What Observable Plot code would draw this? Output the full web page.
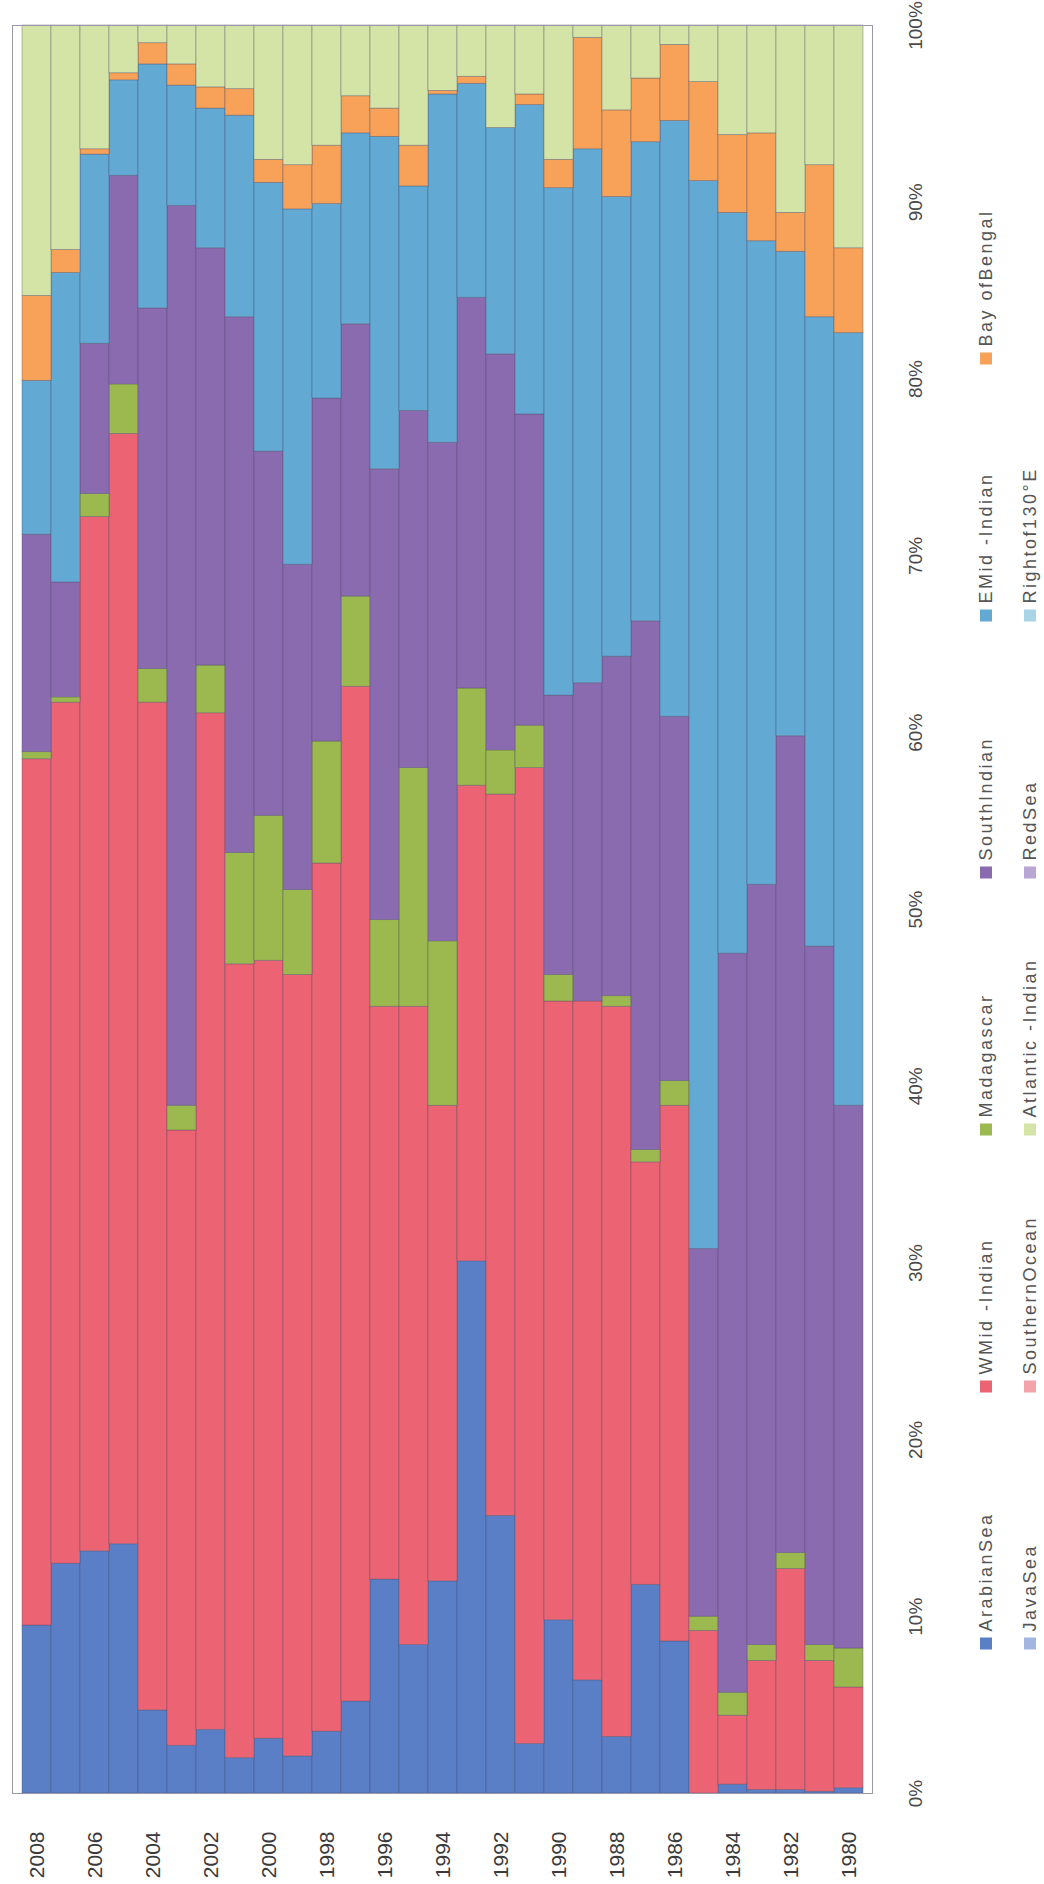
<!DOCTYPE html>
<html>
<head>
<meta charset="utf-8">
<script src="https://cdn.jsdelivr.net/npm/d3@7"></script>
<script src="https://cdn.jsdelivr.net/npm/@observablehq/plot@0.6"></script>
<style>
  html, body { margin: 0; padding: 0; background: #fff; }
  #chart { position: relative; width: 1044px; height: 1884px; overflow: hidden; }
  #legend {
    position: absolute; left: 0; top: 0;
    transform-origin: 0 0;
    transform: translate(979px, 1649.5px) rotate(-90deg);
    display: grid;
    grid-template-columns: repeat(6, 257px);
    grid-auto-rows: 44px;
    align-items: start;
    font-family: "Liberation Sans", Arial, sans-serif;
    font-size: 18px;
    letter-spacing: 2.5px;
    color: #555;
  }
  #legend .item { display: flex; align-items: center; height: 14px; white-space: nowrap; }
  #legend .sw { width: 12px; height: 12px; margin-right: 6px; flex: none; }
</style>
</head>
<body>
<div id="chart"></div>
<script>
// Years, one bar each, in the order they are drawn (left to right)
const years = [2008, 2007, 2006, 2005, 2004, 2003, 2002, 2001, 2000, 1999,
               1998, 1997, 1996, 1995, 1994, 1993, 1992, 1991, 1990, 1989,
               1988, 1987, 1986, 1985, 1984, 1983, 1982, 1981, 1980];
const labeledYears = [2008, 2006, 2004, 2002, 2000, 1998, 1996, 1994, 1992, 1990, 1988, 1986, 1984, 1982, 1980];
const percentTicks = [0, 0.1, 0.2, 0.3, 0.4, 0.5, 0.6, 0.7, 0.8, 0.9, 1];

// Share of each region per year (percent)
const arabianSea     = [9.5, 13.0, 13.7, 14.1, 4.7, 2.7, 3.6, 2.0, 3.1, 2.1, 3.5, 5.2, 12.1, 8.4, 12.0, 30.1, 15.7, 2.8, 9.8, 6.4, 3.2, 11.8, 8.6, 0, 0.5, 0.2, 0.2, 0.1, 0.3];
const wMidIndian     = [49.0, 48.7, 58.5, 62.8, 57.0, 34.8, 57.5, 44.9, 44.0, 44.2, 49.1, 57.4, 32.4, 36.1, 26.9, 26.9, 40.8, 55.2, 35.0, 38.4, 41.3, 23.9, 30.3, 9.2, 3.9, 7.3, 12.5, 7.4, 5.7];
const madagascar     = [0.4, 0.3, 1.3, 2.8, 1.9, 1.4, 2.7, 6.3, 8.2, 4.8, 6.9, 5.1, 4.9, 13.5, 9.3, 5.5, 2.5, 2.4, 1.5, 0, 0.6, 0.7, 1.4, 0.8, 1.3, 0.9, 0.9, 0.9, 2.2];
const southIndian    = [12.3, 6.5, 8.5, 11.8, 20.4, 50.9, 23.6, 30.3, 20.6, 18.4, 19.4, 15.4, 25.5, 20.2, 28.2, 22.1, 22.4, 17.6, 15.8, 18.0, 19.2, 29.9, 20.6, 20.8, 41.8, 43.0, 46.2, 39.5, 30.7];
const eMidIndian     = [8.7, 17.5, 10.7, 5.4, 13.8, 6.8, 7.9, 11.4, 15.2, 20.1, 11.0, 10.8, 18.8, 12.7, 19.7, 12.1, 12.8, 17.5, 28.7, 30.2, 26.0, 27.1, 33.7, 60.4, 41.9, 36.4, 27.4, 35.6, 43.7];
const bayOfBengal    = [4.8, 1.3, 0.3, 0.4, 1.2, 1.2, 1.2, 1.5, 1.3, 2.5, 3.3, 2.1, 1.6, 2.3, 0.2, 0.4, 0, 0.6, 1.6, 6.3, 4.9, 3.6, 4.3, 5.6, 4.4, 6.1, 2.2, 8.6, 4.8];
const javaSea        = [0, 0, 0, 0, 0, 0, 0, 0, 0, 0, 0, 0, 0, 0, 0, 0, 0, 0, 0, 0, 0, 0, 0, 0, 0, 0, 0, 0, 0];
const southernOcean  = [0, 0, 0, 0, 0, 0, 0, 0, 0, 0, 0, 0, 0, 0, 0, 0, 0, 0, 0, 0, 0, 0, 0, 0, 0, 0, 0, 0, 0];
const atlanticIndian = [15.3, 12.7, 7.0, 2.7, 1.0, 2.2, 3.5, 3.6, 7.6, 7.9, 6.8, 4.0, 4.7, 6.8, 3.7, 2.9, 5.8, 3.9, 7.6, 0.7, 4.8, 3.0, 1.1, 3.2, 6.2, 6.1, 10.6, 7.9, 12.6];
const redSea         = [0, 0, 0, 0, 0, 0, 0, 0, 0, 0, 0, 0, 0, 0, 0, 0, 0, 0, 0, 0, 0, 0, 0, 0, 0, 0, 0, 0, 0];
const rightOf130E    = [0, 0, 0, 0, 0, 0, 0, 0, 0, 0, 0, 0, 0, 0, 0, 0, 0, 0, 0, 0, 0, 0, 0, 0, 0, 0, 0, 0, 0];

// Series names (legend text) in stacking order, bottom to top
const seriesNames = ["ArabianSea", "WMid -Indian", "Madagascar", "SouthIndian", "EMid -Indian", "Bay ofBengal",
                     "JavaSea", "SouthernOcean", "Atlantic -Indian", "RedSea", "Rightof130°E"];
const seriesColors = ["#5b7fc6", "#ec6474", "#9cb94f", "#8b6bb0", "#62a9d4", "#f7a258",
                      "#a3b6e0", "#f3a3aa", "#d4e4a6", "#b8a6d4", "#a8d4e6"];
const seriesValues = [arabianSea, wMidIndian, madagascar, southIndian, eMidIndian, bayOfBengal,
                      javaSea, southernOcean, atlanticIndian, redSea, rightOf130E];

// Long table: one row per year and region
const rows = seriesNames.flatMap((name, k) =>
  seriesValues[k].map((value, i) => ({year: years[i], series: name, value}))
);

const fontFamily = "'Liberation Sans', Arial, sans-serif";

const chart = Plot.plot({
  width: 1044,
  height: 1884,
  marginTop: 25,
  marginBottom: 91,
  marginLeft: 12,
  marginRight: 172,
  style: {fontFamily, fontSize: "19px", color: "#444", background: "transparent"},
  x: {type: "band", domain: years, padding: 0, axis: null, label: null},
  y: {domain: [0, 1], axis: null, label: null},
  color: {domain: seriesNames, range: seriesColors},
  marks: [
    Plot.barY(rows, Plot.stackY({
      x: "year",
      y: "value",
      fill: "series",
      order: seriesNames,
      offset: "normalize",
      filter: (d) => d.value > 0,
      stroke: "#4a4a66",
      strokeOpacity: 0.45,
      strokeWidth: 0.8
    })),
    Plot.frame({stroke: "#9a98a8", strokeWidth: 1}),
    Plot.axisY({
      anchor: "right",
      label: null,
      ticks: percentTicks,
      tickFormat: d3.format(".0%"),
      tickSize: 0,
      tickPadding: 43,
      tickRotate: -90,
      textAnchor: "middle",
      lineAnchor: "middle",
      fontSize: 19,
      fill: "#4a4a4a"
    }),
    Plot.axisX({
      anchor: "bottom",
      label: null,
      ticks: labeledYears,
      tickFormat: (d) => String(d),
      tickSize: 0,
      tickPadding: 38,
      tickRotate: -90,
      textAnchor: "end",
      lineAnchor: "middle",
      fontSize: 21,
      fill: "#3a3a3a"
    })
  ]
});

const container = document.getElementById("chart");
container.appendChild(chart);

// Legend built from the chart's own color scale: two rows, turned to read upward
const color = chart.scale("color");
const legend = document.createElement("div");
legend.id = "legend";
color.domain.forEach((name, i) => {
  const item = document.createElement("div");
  item.className = "item";
  item.style.gridRow = i < 6 ? "1" : "2";
  item.style.gridColumn = String((i < 6 ? i : i - 6) + 1);
  const sw = document.createElement("span");
  sw.className = "sw";
  sw.style.background = color.range[i];
  const label = document.createElement("span");
  label.textContent = name;
  item.appendChild(sw);
  item.appendChild(label);
  legend.appendChild(item);
});
container.appendChild(legend);
</script>
</body>
</html>
